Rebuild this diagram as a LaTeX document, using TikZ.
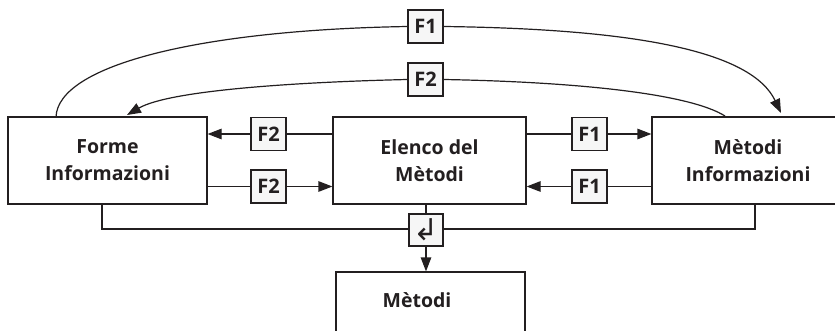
\documentclass[tikz,border=0pt]{standalone}
\usepackage{fontspec}
\setmainfont{Open Sans}
\newfontfamily\symfont{DejaVu Sans}
\usetikzlibrary{arrows.meta}
\definecolor{ink}{HTML}{231F20}
\definecolor{lblfill}{HTML}{F6F6F6}
\begin{document}
\begin{tikzpicture}[x=1pt,y=-1pt,
  line width=1.2pt, draw=ink, text=ink,
  box/.style={draw=ink, line width=1.2pt, inner sep=0pt, font=\fontsize{19.5}{27}\selectfont\bfseries, align=center},
  txt/.style={inner sep=0pt, font=\fontsize{19.5}{27}\selectfont\bfseries, align=center},
  lbl/.style={draw=ink, fill=lblfill, line width=1.2pt, minimum width=35pt, minimum height=33pt, inner sep=0pt, font=\fontsize{20}{20}\selectfont\bfseries},
  arr/.style={-{Triangle[length=14pt,width=10.5pt]}}]
\clip (0,0) rectangle (835,331);
% boxes
\node[box, minimum width=199pt, minimum height=87pt] (forme) at (107.5,160.5) {Forme\\Informazioni};
\node[box, minimum width=193pt, minimum height=87pt] (ele) at (429.5,160.5) {Elenco del\\Mètodi};
\node[box, minimum width=192pt, minimum height=87pt] (mi) at (748,160.5) {Mètodi\\Informazioni};
\node[box, minimum width=189pt, minimum height=80pt] (met) at (430.5,312) {};
\node[txt] (mett) at (417,300) {Mètodi};
% labels
\node[lbl] (f2a) at (268.5,134) {F2};
\node[lbl] (f2b) at (268.5,186.5) {F2};
\node[lbl] (f1a) at (589.5,134) {F1};
\node[lbl] (f1b) at (589.5,186.5) {F1};
\node[lbl] (f1t) at (425.5,26.5) {F1};
\node[lbl] (f2t) at (425.5,79.5) {F2};
\node[lbl, minimum width=34pt, minimum height=32pt, font=\symfont\fontsize{30}{30}\selectfont] (ret) at (426,230) {↲};
% horizontal connectors
\draw (ele.west |- f2a) -- (f2a.east);
\draw[arr] (f2a.west) -- (forme.east |- f2a);
\draw (forme.east |- f2b) -- (f2b.west);
\draw[arr] (f2b.east) -- (ele.west |- f2b);
\draw (ele.east |- f1a) -- (f1a.west);
\draw[arr] (f1a.east) -- (mi.west |- f1a);
\draw (mi.west |- f1b) -- (f1b.east);
\draw[arr] (f1b.west) -- (ele.east |- f1b);
% top curves
\coordinate (s1) at (56,117);
\coordinate (e1) at (781,113);
\draw (s1) .. controls (58,65) and (200,30) .. (f1t.west);
\draw[arr] (f1t.east) .. controls (640,29) and (752,52) .. (e1);
\coordinate (s2) at (725,116);
\coordinate (e2) at (127,115);
\draw (s2) .. controls (690,94) and (580,82) .. (f2t.east);
\draw[arr] (f2t.west) .. controls (300,82) and (170,90) .. (e2);
% bottom merge
\coordinate (l1) at (102,204);
\coordinate (l2) at (102,229);
\coordinate (r1) at (755,204);
\coordinate (r2) at (755,229);
\draw (l1) -- (l2) -- (ret.west |- l2);
\draw (ret.east |- r2) -- (r2) -- (r1);
\draw (ele.south -| ret) -- (ret.north);
\draw[arr] (ret.south) -- (met.north -| ret);
\end{tikzpicture}
\end{document}
